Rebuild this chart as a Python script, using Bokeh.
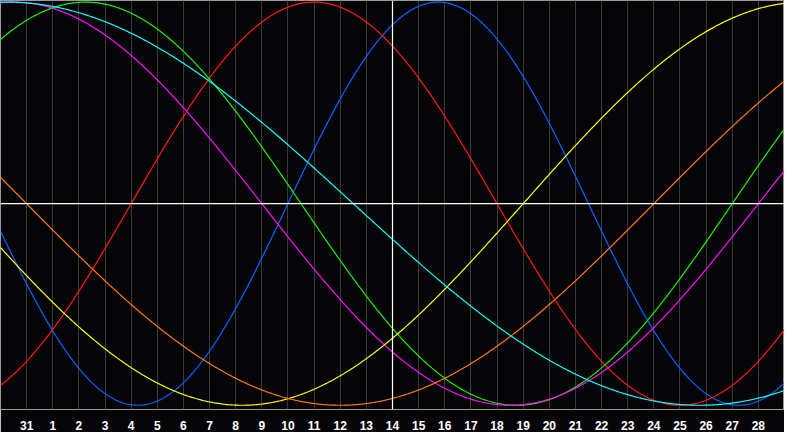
import numpy as np
from bokeh.plotting import figure
from bokeh.models import Range1d, FixedTicker, Span
from bokeh.embed import file_html
from bokeh.resources import INLINE

# Biorhythm cycles: period (days) and day (chart position, 0 = left edge) where the cycle crosses zero going up
cycle_names = ["Physical", "Emotional", "Intellectual", "Intuitive", "Aesthetic", "Awareness", "Spiritual"]
cycle_periods = [23, 28, 33, 38, 43, 48, 53]
cycle_zero_up = [11, 5, -5, -9, 20, -23, -13]
cycle_colors = ["#0a64ff", "#ff1a1a", "#22f000", "#ff10ff", "#ffff10", "#ff7a10", "#10ffff"]

# Day tick labels (positions 1..29 across the 30-day window)
day_labels = ["31"] + [str(d) for d in range(1, 29)]
day_positions = list(range(1, len(day_labels) + 1))
today_position = 15
window_days = 30

BG = "#050508"

p = figure(width=784, height=432,
           x_range=Range1d(0, window_days), y_range=Range1d(-1.021, 1.008),
           output_backend="svg", toolbar_location=None,
           y_axis_location=None, x_axis_location="below",
           min_border_left=0, min_border_right=0, min_border_top=0, min_border_bottom=21,
           background_fill_color=BG, border_fill_color=BG,
           outline_line_color="#9a9a9a", outline_line_width=1)

ticker = FixedTicker(ticks=day_positions)
p.xaxis.ticker = ticker
p.xaxis.major_label_overrides = {pos: lab for pos, lab in zip(day_positions, day_labels)}
p.xaxis.axis_line_color = None
p.xaxis.major_tick_line_color = None
p.xaxis.minor_tick_line_color = None
p.xaxis.major_label_text_color = "white"
p.xaxis.major_label_text_font = "Liberation Sans"
p.xaxis.major_label_text_font_style = "bold"
p.xaxis.major_label_text_font_size = "12px"
p.xaxis.major_label_standoff = 5

p.xgrid.ticker = ticker
p.xgrid.grid_line_color = "#3a3a3a"
p.xgrid.grid_line_width = 1
p.ygrid.grid_line_color = None

p.add_layout(Span(location=0, dimension="width", line_color="white", line_width=1.2))
p.add_layout(Span(location=today_position, dimension="height", line_color="white", line_width=1.2))

t = np.linspace(0, window_days, 901)
for name, per, z, col in zip(cycle_names, cycle_periods, cycle_zero_up, cycle_colors):
    y = np.sin(2 * np.pi * (t - z) / per)
    p.line(t, y, line_color=col, line_width=1.2)

open("out.html", "w").write(file_html(p, INLINE))
